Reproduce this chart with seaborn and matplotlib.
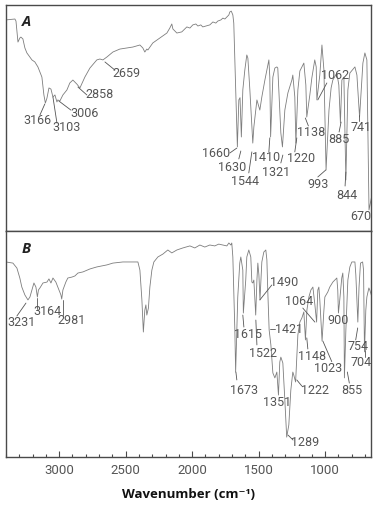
import matplotlib
matplotlib.use("Agg")
import matplotlib.pyplot as plt
import seaborn as sns
import pandas as pd

# ---------------- data ----------------
wn_A = [3400, 3333, 3325, 3310, 3296, 3288, 3273, 3258, 3243, 3205, 3183, 3160, 3130, 3115,
        3104, 3092, 3077, 3062, 3047, 3032, 3017, 3010, 2995, 2972, 2942, 2920, 2897, 2867,
        2844, 2807, 2769, 2717, 2694, 2671, 2641, 2596, 2544, 2491, 2446, 2393, 2371, 2356,
        2341, 2333, 2296, 2243, 2190, 2168, 2153, 2145, 2115, 2078, 2040, 2017, 1995, 1972,
        1957, 1935, 1920, 1897, 1867, 1844, 1822, 1807, 1784, 1769, 1754, 1739, 1724, 1717,
        1706, 1694, 1687, 1660, 1649, 1640, 1630, 1619, 1604, 1589, 1581, 1566, 1544, 1536,
        1513, 1506, 1491, 1476, 1453, 1438, 1423, 1416, 1410, 1393, 1378, 1363, 1356, 1333,
        1321, 1303, 1280, 1250, 1243, 1228, 1220, 1205, 1190, 1160, 1145, 1138, 1115, 1100,
        1078, 1067, 1062, 1040, 1024, 1009, 993, 971, 955, 942, 912, 897, 885, 874, 859, 844,
        829, 814, 776, 761, 741, 716, 701, 686, 670, 648]
t_A = [93.4, 93.8, 92.9, 83.6, 85.4, 85.8, 85.0, 81.0, 78.8, 75.7, 74.8, 72.6, 68.1, 60.2,
       56.6, 58.8, 63.3, 62.8, 59.3, 60.2, 57.1, 58.0, 57.5, 60.2, 62.4, 65.5, 66.8, 65.0,
       63.3, 68.1, 72.1, 75.7, 76.1, 75.7, 77.0, 79.2, 80.5, 81.0, 81.4, 82.3, 81.0, 79.2,
       80.5, 80.1, 83.2, 85.4, 87.6, 89.8, 91.6, 89.4, 87.6, 88.1, 90.3, 89.8, 91.2, 91.6,
       90.7, 91.2, 90.3, 90.7, 91.2, 92.5, 92.0, 92.9, 93.4, 94.2, 93.8, 94.7, 95.6, 96.9,
       97.3, 95.6, 92.0, 37.2, 58.0, 59.0, 41.6, 62.4, 71.2, 77.9, 76.5, 62.4, 38.9, 46.0,
       58.0, 56.6, 53.5, 59.3, 66.8, 71.2, 75.7, 68.1, 41.6, 68.1, 72.1, 72.6, 72.1, 43.4,
       37.2, 53.5, 61.1, 66.8, 69.0, 59.3, 38.9, 62.4, 70.8, 74.3, 64.6, 50.4, 60.2, 67.7,
       75.7, 72.6, 58.0, 69.0, 82.3, 71.2, 27.0, 53.5, 63.3, 66.8, 69.9, 64.6, 47.8, 66.8,
       68.1, 22.6, 62.4, 69.9, 72.6, 69.0, 50.4, 74.3, 78.8, 75.7, 9.3, 15.9]

wn_B = [3400, 3348, 3318, 3296, 3281, 3258, 3235, 3220, 3205, 3190, 3175, 3164, 3156, 3145,
        3122, 3092, 3077, 3062, 3047, 3025, 3010, 2987, 2981, 2972, 2950, 2935, 2905, 2882,
        2859, 2821, 2769, 2717, 2641, 2596, 2521, 2446, 2408, 2393, 2378, 2367, 2356, 2348,
        2341, 2329, 2318, 2303, 2288, 2258, 2220, 2183, 2153, 2115, 2070, 2017, 1980, 1942,
        1905, 1867, 1830, 1800, 1769, 1739, 1724, 1709, 1702, 1694, 1679, 1673, 1657, 1642,
        1634, 1619, 1615, 1597, 1589, 1574, 1559, 1551, 1544, 1536, 1522, 1513, 1506, 1498,
        1490, 1483, 1476, 1461, 1446, 1438, 1431, 1421, 1408, 1393, 1378, 1363, 1351, 1341,
        1333, 1318, 1303, 1289, 1273, 1258, 1243, 1236, 1222, 1205, 1190, 1175, 1160, 1148,
        1137, 1122, 1107, 1092, 1077, 1064, 1055, 1047, 1040, 1023, 1010, 1002, 980, 965, 942,
        912, 905, 900, 890, 875, 867, 859, 855, 844, 829, 814, 799, 776, 769, 754, 745, 734,
        718, 711, 704, 694, 686, 671, 664, 648]
t_B = [86.3, 85.8, 83.6, 79.2, 75.2, 71.7, 69.5, 70.8, 73.9, 77.0, 75.2, 70.8, 73.9, 74.8,
       77.0, 77.4, 78.8, 77.0, 79.2, 77.4, 75.2, 71.7, 69.9, 73.9, 77.4, 79.2, 79.6, 80.1,
       81.4, 81.9, 83.2, 84.1, 85.0, 85.8, 86.3, 86.3, 86.3, 82.7, 69.5, 55.3, 65.0, 67.3,
       62.8, 65.9, 75.2, 82.7, 86.3, 88.5, 89.8, 91.6, 90.3, 91.6, 92.5, 93.4, 92.5, 93.8,
       92.9, 93.8, 93.4, 94.2, 93.8, 93.4, 94.7, 93.8, 94.7, 88.5, 56.2, 37.6, 70.8, 85.8,
       88.5, 82.7, 63.7, 78.3, 88.5, 91.6, 88.5, 77.4, 77.0, 78.3, 62.8, 78.3, 85.8, 80.5,
       69.5, 78.3, 86.3, 90.7, 91.6, 87.2, 73.0, 56.2, 49.6, 37.2, 35.0, 37.6, 27.4, 42.0,
       44.2, 41.6, 25.2, 8.8, 14.2, 29.6, 37.6, 36.3, 33.2, 54.0, 59.7, 61.5, 64.2, 51.8,
       65.0, 70.8, 73.9, 75.2, 67.3, 59.7, 73.9, 75.2, 69.5, 51.3, 64.2, 70.8, 73.0, 75.2, 77.4,
       79.2, 73.9, 63.7, 69.5, 79.2, 81.4, 70.8, 35.0, 56.2, 78.3, 84.1, 86.3, 86.3, 80.5, 59.7,
       75.2, 85.8, 86.3, 82.7, 46.5, 65.0, 70.8, 74.8, 73.9, 70.8]

peaks_A = ["3166", "3103", "3006", "2858", "2659", "1660", "1630", "1544", "1410", "1321",
           "1220", "1138", "1062", "993", "885", "844", "741", "670"]
peaks_B = ["3231", "3164", "2981", "1673", "1615", "1522", "1490", "1421", "1351", "1289",
           "1222", "1148", "1064", "1023", "900", "855", "754", "704"]

tick_values = [3000, 2500, 2000, 1500, 1000]
tick_labels = ["3000", "2500", "2000", "1500", "1000"]

# ---------------- annotation layout (text centre, leader line) ----------------
layout_A = {
    "3166": (3160, 48.7, (3145, 51.3, 3108, 56.2)),
    "3103": (2942, 45.6, (3017, 47.8, 3047, 59.3)),
    "3006": (2807, 51.8, (2912, 53.5, 3002, 57.5)),
    "2858": (2694, 60.6, (2792, 60.2, 2859, 63.7)),
    "2659": (2491, 69.5, (2581, 71.2, 2656, 74.8)),
    "1660": (1822, 34.1, (1717, 34.5, 1664, 36.7)),
    "1630": (1702, 28.3, (1649, 31.9, 1634, 35.4)),
    "1544": (1604, 21.7, (1574, 25.7, 1551, 35.0)),
    "1410": (1446, 32.7, (1423, 35.0, 1416, 41.2)),
    "1321": (1371, 25.7, (1333, 30.1, 1318, 33.6)),
    "1220": (1183, 32.3, (1228, 35.0, 1213, 41.2)),
    "1138": (1108, 43.4, (1126, 46.5, 1149, 50.0)),
    "1062": (927, 69.0, (987, 65.5, 1055, 58.0)),
    "993": (1054, 20.4, (1055, 23.9, 995, 27.0)),
    "885": (895, 40.7, (895, 43.8, 880, 48.2)),
    "844": (835, 15.9, (850, 19.9, 844, 26.1)),
    "741": (729, 45.6, (746, 48.7, 746, 51.3)),
    "670": (729, 6.2, None),
}
layout_B = {
    "3231": (3280, 59.3, (3318, 62.4, 3250, 68.1)),
    "3164": (3092, 64.2, (3168, 65.5, 3168, 70.4)),
    "2981": (2905, 60.6, (2972, 62.8, 2972, 69.5)),
    "1673": (1611, 29.6, (1664, 34.1, 1671, 37.6)),
    "1615": (1581, 54.4, (1611, 57.5, 1619, 62.8)),
    "1522": (1468, 46.0, (1513, 49.6, 1521, 60.6)),
    "1490": (1310, 77.4, (1401, 76.1, 1491, 69.5)),
    "1421": (1273, 56.2, (1416, 56.6, 1378, 56.6)),
    "1351": (1364, 24.3, None),
    "1289": (1150, 6.2, (1241, 7.5, 1279, 9.7)),
    "1222": (1077, 29.6, (1175, 31.4, 1213, 34.1)),
    "1148": (1100, 44.3, (1130, 47.8, 1138, 52.7)),
    "1064": (1198, 68.6, (1168, 65.9, 1077, 59.7)),
    "1023": (975, 39.0, (950, 42.2, 1017, 51.3)),
    "900": (905, 60.6, None),
    "855": (800, 29.6, (818, 32.7, 833, 37.6)),
    "754": (755, 49.1, (770, 51.8, 755, 57.1)),
    "704": (733, 41.6, (703, 44.2, 703, 47.3)),
}

# ---------------- drawing ----------------
sns.set_theme(style="white")
plt.rcParams["font.family"] = ["Liberation Sans Narrow", "Roboto", "DejaVu Sans"]

W, H = 377, 505
fig = plt.figure(figsize=(W / 100, H / 100), dpi=100)
axA = fig.add_axes([6 / W, 1 - 231 / H, 365 / W, 226 / H])
axB = fig.add_axes([6 / W, 1 - 457 / H, 365 / W, 226 / H])

line_color = "#7d7d7d"
text_color = "#555555"
spine_color = "#4a4a4a"

dfA = pd.DataFrame({"wn": wn_A, "T": t_A})
dfB = pd.DataFrame({"wn": wn_B, "T": t_B})

for ax, df, peaks, layout, tag in [(axA, dfA, peaks_A, layout_A, "A"),
                                   (axB, dfB, peaks_B, layout_B, "B")]:
    sns.lineplot(data=df, x="wn", y="T", sort=False, estimator=None, ax=ax,
                 color=line_color, linewidth=0.6)
    ax.set_xlim(3400, 655)
    ax.set_ylim(0, 100)
    ax.set_yticks([])
    ax.set_ylabel("")
    ax.set_xlabel("")
    for s in ax.spines.values():
        s.set_color(spine_color)
        s.set_linewidth(1.0)
    for p in peaks:
        tx, ty, lead = layout[p]
        ax.text(tx, ty, p, ha="center", va="center", fontsize=9, color=text_color)
        if lead is not None:
            ax.plot([lead[0], lead[2]], [lead[1], lead[3]], color=text_color, lw=0.6)
    ax.text(0.055, 0.925 if tag == "A" else 0.92, tag, transform=ax.transAxes,
            ha="center", va="center", fontsize=10.5, fontweight="bold", fontstyle="italic",
            color="#222222", family=["Open Sans", "DejaVu Sans"])

axA.set_xticks([])
axB.set_xticks(tick_values)
axB.set_xticklabels(tick_labels)
axB.set_xticks(list(range(3400, 600, -100)), minor=True)
axB.tick_params(axis="x", which="major", direction="in", length=4, width=0.8,
                colors=spine_color, labelcolor=text_color, labelsize=9.5, pad=5, bottom=True)
axB.tick_params(axis="x", which="minor", direction="in", length=2.2, width=0.8,
                colors=spine_color, bottom=True)
axB.set_xlabel("Wavenumber (cm\u207b\u00b9)", fontsize=9.5, fontweight="bold",
               color="#111111", labelpad=8, family=["Open Sans", "DejaVu Sans"])

fig.savefig("out.png", dpi=100)
